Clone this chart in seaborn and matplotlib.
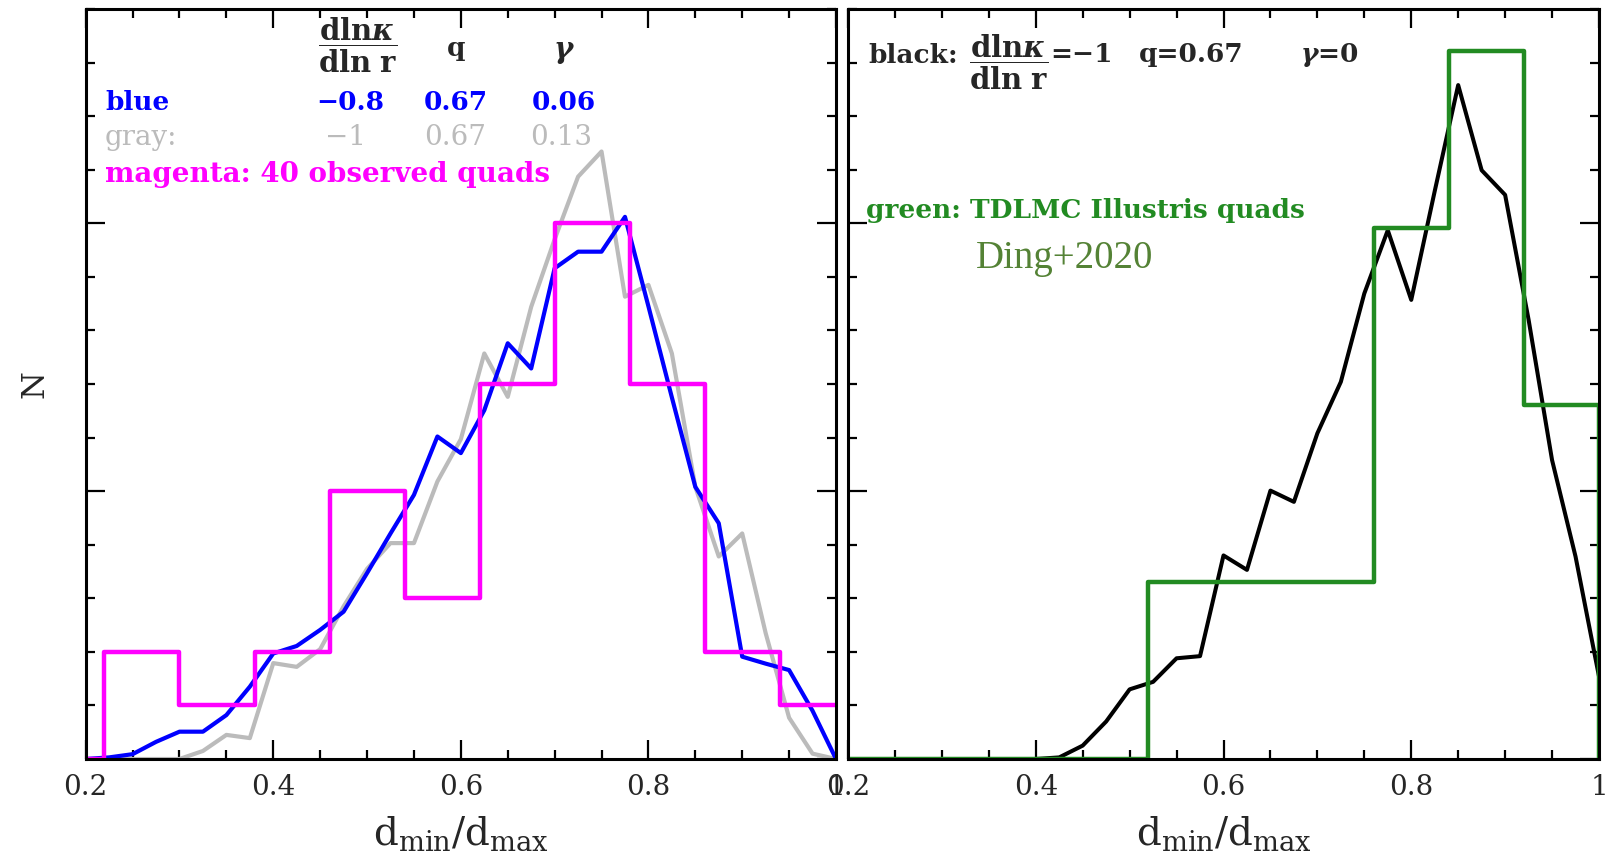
import numpy as np
import pandas as pd
import matplotlib
matplotlib.use("Agg")
import matplotlib.pyplot as plt
from matplotlib.ticker import MultipleLocator, FixedLocator, FixedFormatter
import seaborn as sns

# ---------------- data ----------------
x_grid = [0.200, 0.225, 0.250, 0.275, 0.300, 0.325, 0.350, 0.375, 0.400,
          0.425, 0.450, 0.475, 0.500, 0.525, 0.550, 0.575, 0.600, 0.625,
          0.650, 0.675, 0.700, 0.725, 0.750, 0.775, 0.800, 0.825, 0.850,
          0.875, 0.900, 0.925, 0.950, 0.975, 1.000]

blue_vals = [0.00, 0.03, 0.09, 0.32, 0.51, 0.51, 0.82, 1.35, 1.97,
             2.11, 2.41, 2.75, 3.47, 4.21, 4.93, 6.02, 5.71, 6.51,
             7.76, 7.29, 9.16, 9.47, 9.47, 10.12, 8.45, 6.75, 5.08,
             4.40, 1.91, 1.78, 1.66, 0.90, 0.00]

gray_vals = [0.00, 0.00, 0.00, 0.00, 0.00, 0.15, 0.45, 0.39, 1.79,
             1.72, 2.05, 2.85, 3.55, 4.03, 4.03, 5.18, 5.97, 7.57,
             6.76, 8.44, 9.70, 10.87, 11.34, 8.63, 8.85, 7.57, 5.08,
             3.78, 4.21, 2.35, 0.77, 0.10, 0.00]

black_vals = [0.00, 0.00, 0.00, 0.00, 0.00, 0.00, 0.00, 0.00, 0.00,
              0.03, 0.25, 0.70, 1.30, 1.44, 1.88, 1.92, 3.80, 3.53,
              5.01, 4.80, 6.08, 7.04, 8.69, 9.87, 8.57, 10.60, 12.58,
              10.99, 10.53, 8.20, 5.58, 3.78, 1.54]

# magenta: 40 observed quads (counts per bin)
mag_edges = [0.14, 0.22, 0.30, 0.38, 0.46, 0.54, 0.62, 0.70, 0.78, 0.86, 0.94, 1.02]
mag_counts = [0, 2, 1, 2, 5, 3, 7, 10, 7, 2, 1]

# green: TDLMC Illustris quads (scaled heights)
green_edges = [0.20, 0.28, 0.36, 0.44, 0.52, 0.60, 0.68, 0.76, 0.84, 0.92, 1.00, 1.08]
green_heights = [0, 0, 0, 0, 3.31, 3.31, 3.31, 9.92, 13.22, 6.61, 0]

xtick_vals = [0.2, 0.4, 0.6, 0.8, 1.0]
xtick_labels = ["0.2", "0.4", "0.6", "0.8", "1"]

# ---------------- style ----------------
sns.set_style("ticks")
plt.rcParams["font.family"] = ["DejaVu Serif", "DejaVu Sans"]
plt.rcParams["mathtext.fontset"] = "dejavuserif"

BLUE = "#0000FF"
GRAY = "#BBBBBB"
MAGENTA = "#FF00FF"
GREEN = "#228B22"
DING = "#548235"

fig = plt.figure(figsize=(16.08, 8.57), dpi=100)
W, H = 1608, 857
axL = fig.add_axes([85.7 / W, 1 - 759 / H, 750.3 / W, 750 / H])
axR = fig.add_axes([848 / W, 1 - 759 / H, 751 / W, 750 / H])

curves = pd.DataFrame({"x": x_grid, "blue": blue_vals, "gray": gray_vals, "black": black_vals})
mag_df = pd.DataFrame({"x": mag_edges, "y": mag_counts + [mag_counts[-1]]})
green_df = pd.DataFrame({"x": green_edges, "y": green_heights + [green_heights[-1]]})

# left panel
sns.lineplot(data=curves, x="x", y="gray", ax=axL, color=GRAY, lw=3.0, estimator=None)
sns.lineplot(data=curves, x="x", y="blue", ax=axL, color=BLUE, lw=3.0, estimator=None)
sns.lineplot(data=mag_df, x="x", y="y", ax=axL, color=MAGENTA, lw=3.2, estimator=None,
             drawstyle="steps-post")
# right panel
sns.lineplot(data=curves, x="x", y="black", ax=axR, color="black", lw=2.9, estimator=None)
sns.lineplot(data=green_df, x="x", y="y", ax=axR, color=GREEN, lw=3.2, estimator=None,
             drawstyle="steps-post")

for ax in (axL, axR):
    ax.set_xlim(0.2, 1.0)
    ax.set_ylim(0, 14)
    ax.xaxis.set_major_locator(FixedLocator(xtick_vals))
    ax.xaxis.set_major_formatter(FixedFormatter(xtick_labels))
    ax.xaxis.set_minor_locator(MultipleLocator(0.05))
    ax.yaxis.set_major_locator(MultipleLocator(5))
    ax.yaxis.set_minor_locator(MultipleLocator(1))
    ax.set_yticklabels([])
    ax.tick_params(which="both", direction="in", top=True, right=True, color="black")
    ax.tick_params(which="major", length=13.7, width=1.6, labelsize=20, pad=10.5)
    ax.tick_params(which="minor", length=6.8, width=1.6)
    for s in ax.spines.values():
        s.set_linewidth(2.2)
        s.set_color("black")
    ax.set_xlabel(r"$\mathrm{d_{min}/d_{max}}$", fontsize=28)
    ax.xaxis.set_label_coords(0.5, -0.074)
    ax.set_ylabel("")

axL.set_ylabel("N", fontsize=23)
axL.yaxis.set_label_coords(-0.047, 0.5)

FRAC = r"$\dfrac{\mathbf{dln}\boldsymbol{\kappa}}{\mathbf{dln\ r}}$"
tL = axL.transAxes
fs = 19
kw = dict(fontsize=fs, fontweight="bold")
# header row
axL.text(0.363, 0.9511, FRAC, transform=tL, ha="center", va="center", fontsize=21)
axL.text(0.4936, 0.937, "q", transform=tL, ha="center", va="baseline", **kw)
axL.text(0.6376, 0.935, r"$\boldsymbol{\gamma}$", transform=tL, ha="center", va="baseline", fontsize=fs + 2)
# blue row
yb = 0.865
axL.text(0.0257, yb, "blue", transform=tL, ha="left", va="baseline", color=BLUE, **kw)
for xc, s in [(0.352, "\u22120.8"), (0.4936, "0.67"), (0.6376, "0.06")]:
    axL.text(xc, yb, s, transform=tL, ha="center", va="baseline", color=BLUE, **kw)
# gray row
yg = 0.8187
axL.text(0.0257, yg, "gray:", transform=tL, ha="left", va="baseline", fontsize=fs + 1, color=GRAY)
for xc, s in [(0.3456, "\u22121"), (0.4922, "0.67"), (0.6334, "0.13")]:
    axL.text(xc, yg, s, transform=tL, ha="center", va="baseline", fontsize=fs + 1, color=GRAY)
# magenta
axL.text(0.0257, 0.7693, "magenta: 40 observed quads", transform=tL, ha="left", va="baseline",
         color=MAGENTA, fontsize=20, fontweight="bold")

tR = axR.transAxes
axR.text(0.0266, 0.928, "black:", transform=tR, ha="left", va="baseline", **kw)
axR.text(0.2144, 0.9293, FRAC, transform=tR, ha="center", va="center", fontsize=21)
axR.text(0.269, 0.929, "=\u22121", transform=tR, ha="left", va="baseline", **kw)
axR.text(0.3875, 0.929, "q=0.67", transform=tR, ha="left", va="baseline", **kw)
axR.text(0.602, 0.929, r"$\boldsymbol{\gamma}$=0", transform=tR, ha="left", va="baseline", **kw)
axR.text(0.024, 0.7213, "green: TDLMC Illustris quads", transform=tR, ha="left", va="baseline",
         color=GREEN, **kw)
axR.text(0.1704, 0.6547, "Ding+2020", transform=tR, ha="left", va="baseline",
         fontsize=28, color=DING, family=["Liberation Serif", "DejaVu Serif"])

fig.savefig("out.png", dpi=100)
